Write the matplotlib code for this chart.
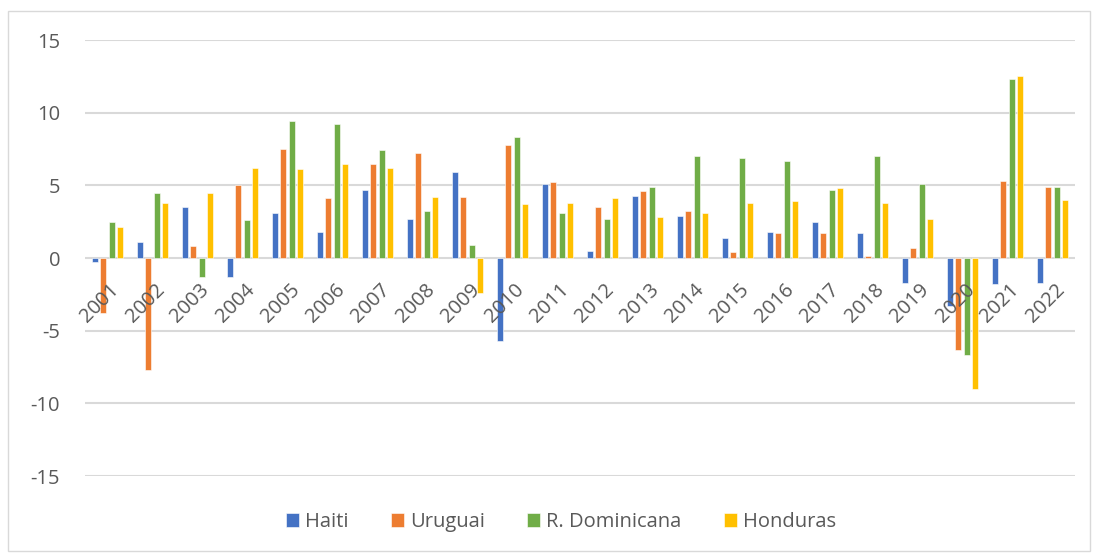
import matplotlib
matplotlib.use("Agg")
import matplotlib.pyplot as plt
import matplotlib.transforms as mtransforms
from matplotlib.patches import Rectangle
import numpy as np

years = [str(y) for y in range(2001, 2023)]
haiti = [-0.3, 1.1, 3.5, -1.3, 3.1, 1.8, 4.7, 2.7, 5.9, -5.7, 5.1, 0.5, 4.3, 2.9, 1.4, 1.8, 2.5, 1.7, -1.7, -3.3, -1.8, -1.7]
uruguai = [-3.8, -7.7, 0.8, 5.0, 7.5, 4.1, 6.5, 7.2, 4.2, 7.8, 5.2, 3.5, 4.6, 3.2, 0.4, 1.7, 1.7, 0.15, 0.7, -6.3, 5.3, 4.9]
rdominicana = [2.5, 4.5, -1.3, 2.6, 9.4, 9.2, 7.4, 3.2, 0.9, 8.3, 3.1, 2.7, 4.9, 7.0, 6.9, 6.7, 4.7, 7.0, 5.1, -6.7, 12.3, 4.9]
honduras = [2.1, 3.8, 4.5, 6.2, 6.1, 6.5, 6.2, 4.2, -2.4, 3.7, 3.8, 4.1, 2.8, 3.1, 3.8, 3.9, 4.8, 3.8, 2.7, -9.0, 12.5, 4.0]
series_names = ["Haiti", "Uruguai", "R. Dominicana", "Honduras"]
yticks = [-15, -10, -5, 0, 5, 10, 15]

colors = ["#4472C4", "#ED7D31", "#70AD47", "#FFC000"]
font = ["Open Sans", "DejaVu Sans"]
txtcol = "#595959"
fs = 14.5

W, H = 1094, 554
fig = plt.figure(figsize=(W / 100, H / 100), dpi=100)
fig.patch.set_facecolor("white")

# outer border
fig.add_artist(Rectangle((8 / W, 3 / H), 1082 / W, (H - 14) / H, transform=fig.transFigure,
                         fill=False, edgecolor="#D9D9D9", linewidth=1.0))

ax = fig.add_axes([85 / W, (H - 476) / H, 990 / W, 436 / H])
ax.set_facecolor("none")

x = np.arange(len(years))
step = 0.185
width = 0.135
data = [haiti, uruguai, rdominicana, honduras]
for i, (vals, c, name) in enumerate(zip(data, colors, series_names)):
    ax.bar(x + (i - 1.5) * step, vals, width=width, color=c, label=name,
           edgecolor="white", linewidth=0.4, zorder=3)

ax.set_xlim(-0.5, len(years) - 0.5)
ax.set_ylim(-15, 15)
ax.set_yticks(yticks)
ax.set_yticklabels([str(v) for v in yticks], fontfamily=font, fontsize=fs, color=txtcol)
ax.tick_params(axis="y", length=0, pad=18)
ax.set_xticks([])
ax.grid(axis="y", color="#D9D9D9", linewidth=1.5, zorder=0)
for s in ax.spines.values():
    s.set_visible(False)

trans = mtransforms.offset_copy(ax.transData, fig=fig, x=2, y=-22, units="dots")
for xi, lab in zip(x, years):
    ax.text(xi, 0, lab, rotation=45, ha="right", va="top", rotation_mode="anchor",
            fontfamily=font, fontsize=fs, color=txtcol, transform=trans, zorder=4)

leg = fig.legend(loc="center", bbox_to_anchor=(561 / W, 1 - 522 / H), ncol=4, frameon=False,
                 prop={"family": font, "size": fs}, handlelength=0.65, handleheight=0.65,
                 handletextpad=0.3, columnspacing=2.1)
for t in leg.get_texts():
    t.set_color(txtcol)

fig.savefig("out.png", dpi=100, facecolor="white")
